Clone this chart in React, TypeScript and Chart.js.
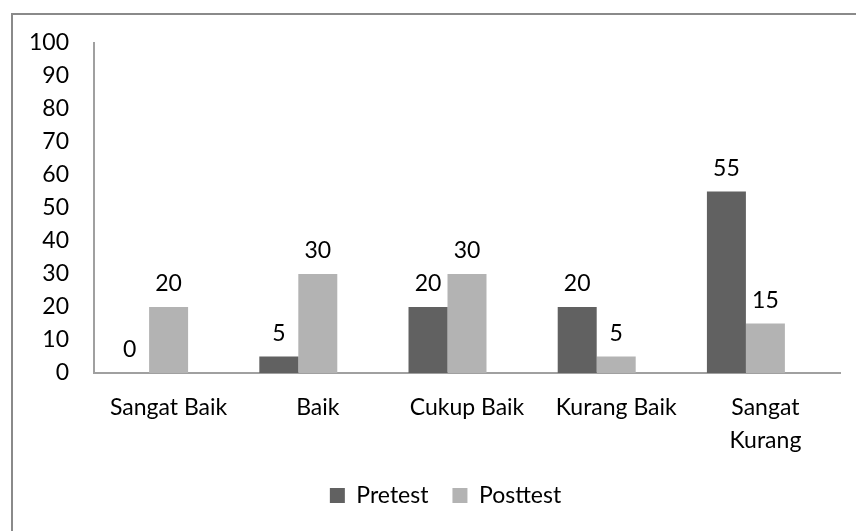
import React, { useEffect, useRef } from "react";
import { Chart, registerables } from "chart.js";

Chart.register(...registerables);

const categories: (string | string[])[] = ["Sangat Baik", "Baik", "Cukup Baik", "Kurang Baik", ["Sangat", "Kurang"]];
const pretest = [0, 5, 20, 20, 55];
const posttest = [20, 30, 30, 5, 15];
// empty third series (present in the original, holds no values)
const series3: (number | null)[] = [null, null, null, null, null];
const seriesNames = ["Pretest", "Posttest", "Series 3"];
const yTicks = [0, 10, 20, 30, 40, 50, 60, 70, 80, 90, 100];

const FONT = "Lato, 'Open Sans', sans-serif";
const FS = 23;

const valueLabels = {
  id: "valueLabels",
  afterDatasetsDraw(chart: any) {
    const ctx = chart.ctx;
    ctx.save();
    ctx.font = `${FS}px ${FONT}`;
    ctx.fillStyle = "#000";
    ctx.textAlign = "center";
    ctx.textBaseline = "alphabetic";
    chart.data.datasets.forEach((ds: any, i: number) => {
      const meta = chart.getDatasetMeta(i);
      meta.data.forEach((el: any, j: number) => {
        const v = ds.data[j];
        if (v === null || v === undefined) return;
        ctx.fillText(String(v), el.x, el.y - 16);
      });
    });
    ctx.restore();
  },
};

// centre the legend on the framed chart box rather than the canvas
const legendShift = {
  id: "legendShift",
  afterLayout(chart: any) {
    if (chart.legend) chart.legend.left += 51;
  },
};

export default function App() {
  const ref = useRef<HTMLCanvasElement>(null);
  useEffect(() => {
    if (!ref.current) return;
    const chart = new Chart(ref.current, {
      type: "bar",
      data: {
        labels: categories,
        datasets: [
          { label: seriesNames[0], data: pretest, backgroundColor: "#616161", borderWidth: 0 },
          { label: seriesNames[1], data: posttest, backgroundColor: "#b3b3b3", borderWidth: 0 },
          { label: seriesNames[2], data: series3, backgroundColor: "#888888", borderWidth: 0 },
        ],
      },
      options: {
        responsive: false,
        animation: false,
        layout: { padding: { left: 0, right: 16, top: 43, bottom: 14 } },
        datasets: { bar: { barPercentage: 1, categoryPercentage: 0.784 } },
        plugins: {
          legend: {
            position: "bottom",
            labels: {
              boxWidth: 15,
              boxHeight: 15,
              padding: 24,
              color: "#000",
              font: { family: FONT, size: FS },
              filter: (item: any) => item.datasetIndex < 2,
            },
          },
          tooltip: { enabled: false },
        },
        scales: {
          x: {
            grid: { display: false, drawTicks: false },
            border: { display: true, color: "#a0a0a0", width: 2 },
            ticks: { color: "#000", padding: 18, maxRotation: 0, font: { family: FONT, size: FS, lineHeight: 1.43 } },
            afterFit: (s: any) => { s.height = 87; },
          },
          y: {
            min: 0,
            max: 100,
            afterBuildTicks: (s: any) => { s.ticks = yTicks.map((v) => ({ value: v })); },
            grid: { display: false, drawTicks: false },
            border: { display: true, color: "#a0a0a0", width: 2 },
            ticks: { color: "#000", padding: 25, font: { family: FONT, size: FS } },
            afterFit: (s: any) => { s.width = 94; },
          },
        },
      },
      plugins: [valueLabels, legendShift],
    });
    return () => chart.destroy();
  }, []);
  return (
    <div style={{ position: "absolute", left: 0, top: 0, width: 856, height: 531, overflow: "hidden", background: "#fff" }}>
      <div style={{ position: "absolute", left: 11, top: 13, width: 900, height: 600, border: "2px solid #8a8a8a", boxSizing: "border-box" }} />
      <canvas ref={ref} width={856} height={531} style={{ position: "absolute", left: 0, top: 0, width: 856, height: 531 }} />
    </div>
  );
}
